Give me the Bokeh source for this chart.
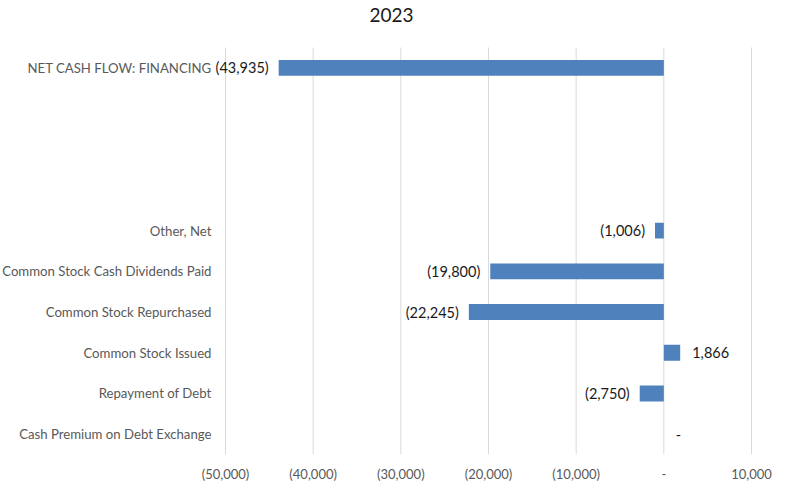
from bokeh.plotting import figure
from bokeh.models import ColumnDataSource, FixedTicker, Range1d, Label
from bokeh.core.properties import value
from bokeh.embed import file_html
from bokeh.resources import INLINE

chart_title = "2023"
categories = ["Cash Premium on Debt Exchange", "Repayment of Debt", "Common Stock Issued",
              "Common Stock Repurchased", "Common Stock Cash Dividends Paid", "Other, Net",
              "", "", "", "NET CASH FLOW: FINANCING"]
values = [0, -2750, 1866, -22245, -19800, -1006, None, None, None, -43935]
x_ticks = [-50000, -40000, -30000, -20000, -10000, 0, 10000]


def fmt(v):
    if v == 0:
        return "-"
    s = f"{abs(v):,}"
    return f"({s})" if v < 0 else s


rows = [(i, v) for i, v in enumerate(values) if v is not None]
src = ColumnDataSource(dict(
    y=[i for i, _ in rows],
    v=[v for _, v in rows],
    label=[fmt(v) for _, v in rows],
    off=[-10 if v < 0 else 12 for _, v in rows],
    align=["right" if v < 0 else "left" for _, v in rows],
))
cat_idx = [i for i, c in enumerate(categories) if c]
cat_src = ColumnDataSource(dict(y=cat_idx, name=[categories[i] for i in cat_idx],
                                x=[x_ticks[0]] * len(cat_idx)))

# layout in pixels: the frame covers the whole figure except the bottom axis strip;
# the plotting band sits inside it with a label gutter on the left and a title strip on top
W, H = 776, 485
GUTTER, RIGHT_PAD, TOP_PAD, BOTTOM = 225, 25, 47, 31
band_w = W - GUTTER - RIGHT_PAD
band_h = H - BOTTOM - TOP_PAD
span = x_ticks[-1] - x_ticks[0]
ux = span / band_w
y_lo, y_hi = -0.5, len(categories) - 0.5
uy = (y_hi - y_lo) / band_h

FONT = "Lato"
p = figure(width=W, height=H, output_backend="svg", toolbar_location=None,
           x_range=Range1d(x_ticks[0] - GUTTER * ux, x_ticks[-1] + RIGHT_PAD * ux),
           y_range=Range1d(y_lo, y_hi + TOP_PAD * uy),
           min_border_left=0, min_border_right=0, min_border_top=0,
           min_border_bottom=BOTTOM)
p.outline_line_color = None
p.background_fill_color = "white"
p.border_fill_color = "white"
p.xgrid.grid_line_color = None
p.ygrid.grid_line_color = None

# vertical gridlines across the category band
p.segment(x0=x_ticks, y0=[y_lo] * len(x_ticks), x1=x_ticks, y1=[y_hi] * len(x_ticks),
          line_color="#D9D9D9", line_width=1)

p.hbar(y="y", left=0, right="v", height=0.39, source=src,
       fill_color="#4F81BD", line_color=None)

p.text(x="v", y="y", text="label", x_offset="off", text_align="align",
       text_baseline="middle", source=src, text_font=value(FONT),
       text_font_size="14.5px", text_color="#1a1a1a")

# category labels
p.text(x="x", y="y", text="name", x_offset=-14, text_align="right",
       text_baseline="middle", source=cat_src, text_font=value(FONT),
       text_font_size="13.2px", text_color="#595959")

p.yaxis.visible = False

p.xaxis.ticker = FixedTicker(ticks=x_ticks)
p.xaxis.major_label_overrides = {t: fmt(t) for t in x_ticks}
p.xaxis.axis_line_color = None
p.xaxis.major_tick_line_color = None
p.xaxis.minor_tick_line_color = None
p.xaxis.major_tick_out = 0
p.xaxis.major_label_standoff = 11
p.xaxis.major_label_text_font = FONT
p.xaxis.major_label_text_font_size = "13px"
p.xaxis.major_label_text_color = "#595959"

p.add_layout(Label(x=391, y=H - BOTTOM - 14, x_units="screen", y_units="screen",
                   text=chart_title, text_align="center", text_baseline="middle",
                   text_font=FONT, text_font_size="19px", text_color="#1a1a1a"))

open("out.html", "w").write(file_html(p, INLINE))
